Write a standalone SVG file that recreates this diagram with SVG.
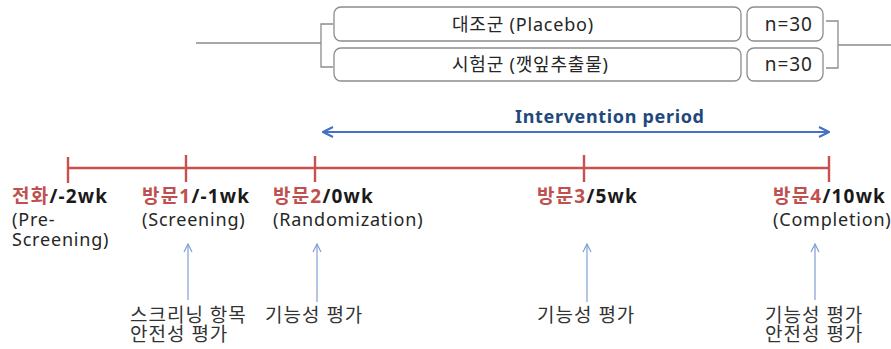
<svg xmlns="http://www.w3.org/2000/svg" width="891" height="349" viewBox="0 0 891 349">
<style>
.box{fill:#fff;stroke:#8c8c8c;stroke-width:1.3}
.brk{fill:none;stroke:#8c8c8c;stroke-width:1.3}
.t{font-family:"Noto Sans","Noto Sans CJK KR",sans-serif;fill:#262626}
.bt{font-size:18px;letter-spacing:0.8px}
.nt{font-size:19px;text-anchor:end;letter-spacing:1px}
.lab{font-size:19px;font-weight:bold;fill:#1a1a1a;letter-spacing:1.2px}
.red{fill:#c0504d}
.sub{font-size:18px;letter-spacing:0.8px}
.bot{font-size:19px;fill:#333;letter-spacing:1px}
.tl{stroke:#c9504d;stroke-width:2.4;fill:none}
.up{stroke:#7f9fd4;stroke-width:1.2;fill:none}
</style>
<defs>
<marker id="chev" viewBox="0 0 12 12" refX="11" refY="6" markerWidth="12" markerHeight="12" markerUnits="userSpaceOnUse" orient="auto-start-reverse">
<path d="M1,1 L11,6 L1,11" fill="none" stroke="#4472c4" stroke-width="2.2"/>
</marker>
<marker id="small" viewBox="0 0 10 10" refX="9" refY="5" markerWidth="10" markerHeight="10" markerUnits="userSpaceOnUse" orient="auto">
<path d="M1,1 L9,5 L1,9" fill="none" stroke="#7f9fd4" stroke-width="1.2"/>
</marker>
</defs>

<g id="group-control">
<rect class="box" x="334" y="7" width="407" height="34" rx="7"/>
<text class="t bt" x="452" y="31">대조군 (Placebo)</text>
</g>
<g id="group-test">
<rect class="box" x="334" y="48" width="407" height="33" rx="7"/>
<text class="t bt" x="452" y="71">시험군 (깻잎추출물)</text>
</g>
<g id="n-control">
<rect class="box" x="747" y="7" width="76" height="34" rx="7"/>
<text class="t nt" x="813" y="31">n=30</text>
</g>
<g id="n-test">
<rect class="box" x="747" y="48" width="76" height="33" rx="7"/>
<text class="t nt" x="813" y="71">n=30</text>
</g>

<g id="intervention">
<text class="t" x="515" y="123" textLength="189" lengthAdjust="spacing" style="font-size:18px;font-weight:bold;fill:#1f497d">Intervention period</text>
</g>

<g id="visit-phone">
<text class="t lab" x="12" y="203"><tspan class="red">전화</tspan>/-2wk</text>
<text class="t sub" x="12" y="226">(Pre-</text>
<text class="t sub" x="12" y="246">Screening)</text>
</g>
<g id="visit-1">
<text class="t lab" x="142" y="203"><tspan class="red">방문1</tspan>/-1wk</text>
<text class="t sub" x="142" y="226">(Screening)</text>
</g>
<g id="visit-2">
<text class="t lab" x="273" y="203"><tspan class="red">방문2</tspan>/0wk</text>
<text class="t sub" x="273" y="226">(Randomization)</text>
</g>
<g id="visit-3">
<text class="t lab" x="537" y="203"><tspan class="red">방문3</tspan>/5wk</text>
</g>
<g id="visit-4">
<text class="t lab" x="773" y="203"><tspan class="red">방문4</tspan>/10wk</text>
<text class="t sub" x="773" y="226">(Completion)</text>
</g>

<g id="assess-1">
<text class="t bot" x="130" y="322">스크리닝 항목</text>
<text class="t bot" x="130" y="341">안전성 평가</text>
</g>
<g id="assess-2">
<text class="t bot" x="265" y="322">기능성 평가</text>
</g>
<g id="assess-3">
<text class="t bot" x="537" y="322">기능성 평가</text>
</g>
<g id="assess-4">
<text class="t bot" x="765" y="322">기능성 평가</text>
<text class="t bot" x="765" y="341">안전성 평가</text>
</g>

<g id="connectors">
<path class="brk" d="M196,43 H321 M333,24 H321 V67 H333"/>
<path class="brk" d="M826,21 H838 V68 H826 M838,45 H891"/>
<path d="M323,132 H829" stroke="#4472c4" stroke-width="2.2" fill="none" marker-start="url(#chev)" marker-end="url(#chev)"/>
<path class="tl" d="M68,168 H829 M68,157 V183 M186,155 V182 M315,156 V182 M584,155 V182 M829,156 V182"/>
<path class="up" d="M188,300 V244" marker-end="url(#small)"/>
<path class="up" d="M317,302 V244" marker-end="url(#small)"/>
<path class="up" d="M587,302 V244" marker-end="url(#small)"/>
<path class="up" d="M815,300 V244" marker-end="url(#small)"/>
</g>
</svg>
